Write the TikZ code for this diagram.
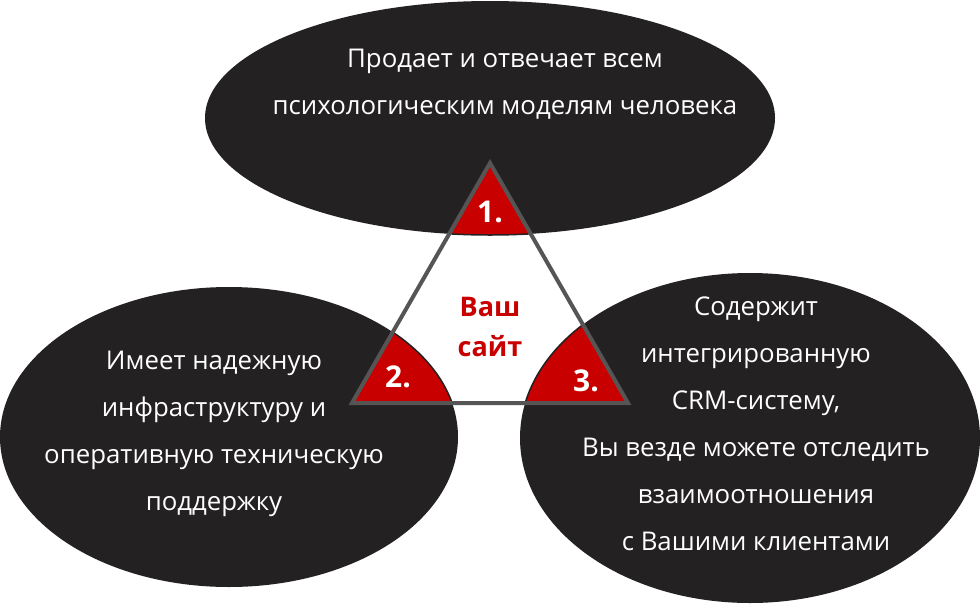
\documentclass[tikz,border=0pt]{standalone}
\usepackage{fontspec}
\setmainfont{Open Sans}
\definecolor{blobgray}{HTML}{232122}
\definecolor{sitered}{HTML}{C80000}
\definecolor{edgegray}{HTML}{555555}

\begin{document}
\begin{tikzpicture}[
  x=1pt, y=-1pt,
  blob/.style={fill=blobgray},
  corner/.style={fill=sitered, draw=blobgray, line width=1.5pt},
  tri/.style={draw=edgegray, line width=4pt, line join=miter},
  txt/.style={text=white, align=center, font=\fontsize{25.8}{47}\selectfont},
  num/.style={text=white, font=\bfseries\fontsize{30}{30}\selectfont},
  site/.style={text=sitered, align=center, font=\bfseries\fontsize{27}{40}\selectfont},
]
  \useasboundingbox (0,0) rectangle (980,603);
  \fill[white] (0,0) rectangle (980,603);

  % the three ellipses
  \path[blob] (490,118) ellipse [x radius=285, y radius=117];
  \path[blob] (229,437) ellipse [x radius=229, y radius=150];
  \path[blob] (750,438) ellipse [x radius=230, y radius=165];

  \coordinate (apex) at (490,163);
  \coordinate (bl) at (352,403);
  \coordinate (br) at (628,403);

  % red corners where the triangle meets the ellipses
  \begin{scope}
    \clip (apex) -- (bl) -- (br) -- cycle;
    \path[corner] (490,118) ellipse [x radius=285, y radius=117];
    \path[corner] (229,437) ellipse [x radius=229, y radius=150];
    \path[corner] (750,438) ellipse [x radius=230, y radius=165];
  \end{scope}
  \draw[tri] (apex) -- (bl) -- (br) -- cycle;

  \node[txt] (sells) at (505,84) {Продает и отвечает всем\\психологическим моделям человека};
  \node[txt] (infra) at (214,434) {Имеет надежную\\инфраструктуру и\\оперативную техническую\\поддержку};
  \node[txt] (crm) at (756,424) {Содержит\\интегрированную\\CRM-систему,\\Вы везде можете отследить\\взаимоотношения\\с Вашими клиентами};

  \node[site] (yoursite) at (490,327) {Ваш\\сайт};
  \node[num] (one) at (490,212) {1.};
  \node[num] (two) at (398,377) {2.};
  \node[num] (three) at (586,381) {3.};
\end{tikzpicture}
\end{document}
